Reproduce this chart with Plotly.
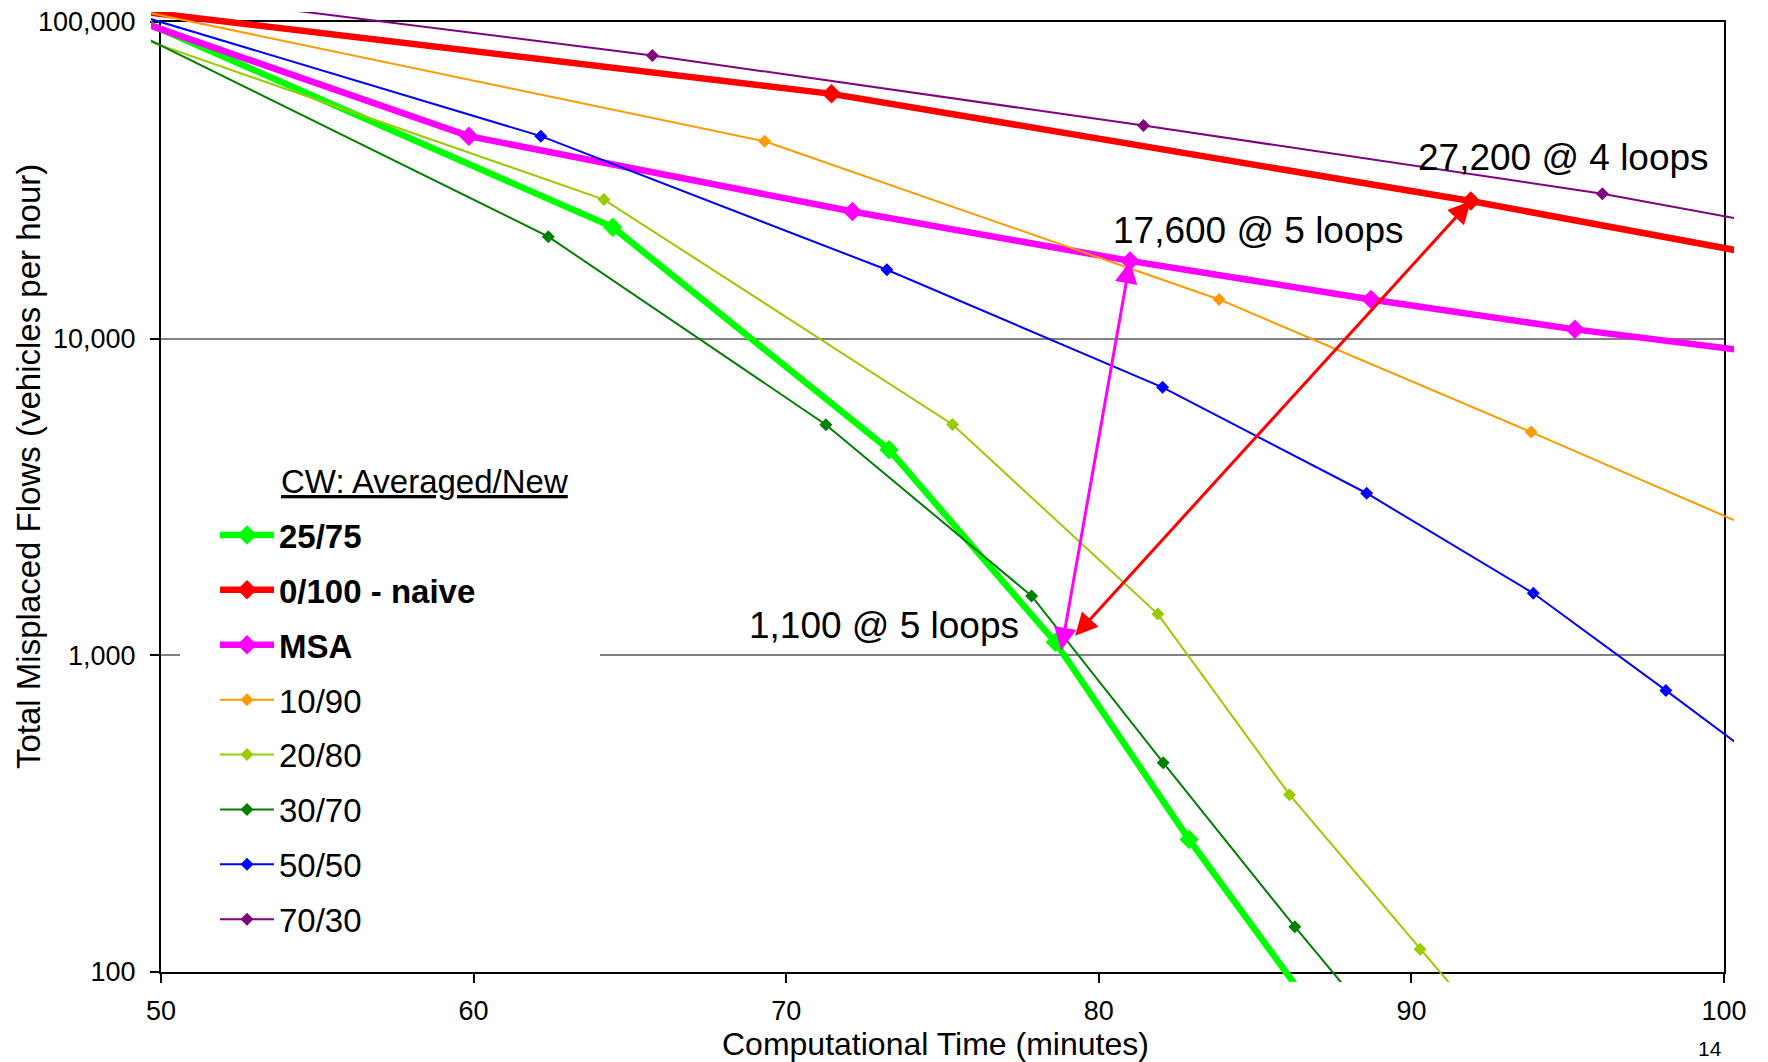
import math
import plotly.graph_objects as go

# ---------------- data ----------------
x_2575 = [49.0, 64.45, 73.29, 78.61, 82.89, 86.7]
y_2575 = [104800, 22500, 4460, 1100, 262, 80]

x_naive = [49.0, 71.45, 91.9, 112.3]
y_naive = [109000, 59300, 27200, 11500]

x_msa = [49.0, 59.85, 72.12, 81.0, 88.71, 95.23, 101.5]
y_msa = [102700, 43600, 25200, 17600, 13300, 10700, 8950]

x_1090 = [49.0, 69.31, 83.85, 93.83, 101.0]
y_1090 = [110100, 42000, 13300, 5070, 2500]

x_2080 = [49.0, 64.17, 75.32, 81.89, 86.10, 90.28, 93.5]
y_2080 = [91200, 27500, 5360, 1350, 363, 118, 50]

x_3070 = [49.0, 62.39, 71.27, 77.85, 82.06, 86.27, 89.8]
y_3070 = [94300, 21000, 5350, 1540, 458, 139, 53]

x_5050 = [49.0, 62.15, 73.22, 82.04, 88.57, 93.90, 98.14, 101.6]
y_5050 = [107000, 43600, 16500, 7020, 3250, 1570, 775, 431]

x_7030 = [49.0, 65.72, 81.43, 96.11, 110.5]
y_7030 = [126300, 78400, 47100, 28700, 15650]

series_names = ["25/75", "0/100 - naive", "MSA", "10/90", "20/80", "30/70", "50/50", "70/30"]
legend_title = "CW: Averaged/New"
x_ticks = [50, 60, 70, 80, 90, 100]
y_ticks = [100, 1000, 10000, 100000]
y_tick_text = ["100", "1,000", "10,000", "100,000"]
x_title = "Computational Time (minutes)"
y_title = "Total Misplaced Flows (vehicles per hour)"
page_no = "14"

# callouts: (label, x, value)
callout_naive = ("27,200 @ 4 loops", 91.9, 27200)
callout_msa = ("17,600 @ 5 loops", 81.0, 17600)
callout_2575 = ("1,100 @ 5 loops", 78.61, 1100)

# ---------------- styling ----------------
W, H = 1768, 1062
ML, MR, MT, MB = 151, 34, 12, 80
PW, PH = W - ML - MR, H - MT - MB
OV = 10  # px that the lines may overflow the frame
XMIN, XMAX = 50, 100
LMIN, LMAX = 2, 5
ppm = (PW - 2 * OV) / (XMAX - XMIN)
ppd = (PH - 2 * OV) / (LMAX - LMIN)
FONT = "Liberation Sans, Arial, sans-serif"


def px(xpix):
    return (xpix - ML) / PW


def py(ypix):
    return 1 - (ypix - MT) / PH


styles = [
    ("#00FF00", 6.5, 15, True),
    ("#FF0000", 6.5, 15, True),
    ("#FF00FF", 6.5, 15, True),
    ("#FF9900", 2, 10, False),
    ("#99CC00", 2, 10, False),
    ("#008000", 2, 10, False),
    ("#0000FF", 2, 10, False),
    ("#800080", 2, 10, False),
]
data = [(x_2575, y_2575), (x_naive, y_naive), (x_msa, y_msa), (x_1090, y_1090),
        (x_2080, y_2080), (x_3070, y_3070), (x_5050, y_5050), (x_7030, y_7030)]

fig = go.Figure()
# frame subplot (axes, ticks, grid)
fig.add_trace(go.Scatter(x=[None], y=[None], xaxis="x", yaxis="y",
                         showlegend=False, hoverinfo="skip"))
for name, (xs, ys), (col, lw, ms, bold) in zip(series_names, data, styles):
    fig.add_trace(go.Scatter(
        x=xs, y=ys, xaxis="x2", yaxis="y2", mode="lines+markers",
        name=f"<b>{name}</b>" if bold else name, legendgroup=name,
        line=dict(color=col, width=lw),
        marker=dict(symbol="diamond", size=ms, color=col, line=dict(width=0)),
    ))

L = math.log10
annotations = []
# arrows (double-headed)
annotations.append(dict(xref="x2", yref="y2", axref="x2", ayref="y2",
                        x=callout_msa[1], y=L(callout_msa[2]),
                        ax=78.79, ay=L(1027), text="", showarrow=True,
                        arrowside="end+start", arrowhead=2, startarrowhead=2,
                        arrowsize=1.5, startarrowsize=1.5, arrowwidth=3,
                        arrowcolor="#FF00FF", standoff=0, startstandoff=0))
annotations.append(dict(xref="x2", yref="y2", axref="x2", ayref="y2",
                        x=callout_naive[1], y=L(callout_naive[2]),
                        ax=79.2, ay=L(1140), text="", showarrow=True,
                        arrowside="end+start", arrowhead=2, startarrowhead=2,
                        arrowsize=1.5, startarrowsize=1.5, arrowwidth=3,
                        arrowcolor="#FF0000", standoff=0, startstandoff=0))
# callout texts
for (txt, _, _), tx, ty in [(callout_naive, 94.85, 4.5733),
                            (callout_msa, 85.12, 4.3417),
                            (callout_2575, 73.13, 3.0933)]:
    annotations.append(dict(xref="x2", yref="y2", x=tx, y=ty, text=txt,
                            showarrow=False, xanchor="center", yanchor="middle",
                            font=dict(size=37, color="black", family=FONT)))
# axis titles
annotations.append(dict(xref="paper", yref="paper", x=px(28), y=py(467),
                        textangle=-90, text=y_title, showarrow=False,
                        xanchor="center", yanchor="middle",
                        font=dict(size=33, color="black", family=FONT)))
annotations.append(dict(xref="paper", yref="paper", x=px(935), y=py(1044),
                        text=x_title, showarrow=False,
                        xanchor="center", yanchor="middle",
                        font=dict(size=32, color="black", family=FONT)))
# legend title (underlined)
annotations.append(dict(xref="paper", yref="paper", x=px(279), y=py(481),
                        text=f"<u>{legend_title}</u>", showarrow=False,
                        xanchor="left", yanchor="middle",
                        font=dict(size=33, color="black", family=FONT)))
# page number
annotations.append(dict(xref="paper", yref="paper", x=px(1710), y=py(1048),
                        text=page_no, showarrow=False,
                        xanchor="center", yanchor="middle",
                        font=dict(size=21, color="black", family=FONT)))

# white legend panel that masks the gridline behind the legend
shapes = [dict(type="rect", xref="paper", yref="paper", layer="above",
               x0=px(180), x1=px(600), y0=py(945), y1=py(455),
               fillcolor="white", line=dict(width=0))]

fig.update_layout(
    width=W, height=H,
    margin=dict(l=ML, r=MR, t=MT, b=MB, pad=0, autoexpand=False),
    paper_bgcolor="white", plot_bgcolor="rgba(0,0,0,0)",
    font=dict(family=FONT, color="black"),
    showlegend=True,
    xaxis=dict(domain=[OV / PW, 1 - OV / PW], anchor="y", range=[XMIN, XMAX],
               automargin=False,
               tickvals=x_ticks, ticks="outside", ticklen=9, tickwidth=1.5,
               tickcolor="black", showgrid=False, zeroline=False,
               showline=True, linecolor="black", linewidth=2, mirror=True,
               tickfont=dict(size=27), ticklabelstandoff=5),
    yaxis=dict(domain=[OV / PH, 1 - OV / PH], anchor="x", type="log",
               automargin=False,
               range=[LMIN, LMAX], tickvals=y_ticks, ticktext=y_tick_text,
               ticks="outside", ticklen=9, tickwidth=1.5, tickcolor="black",
               showgrid=True, gridcolor="#808080", gridwidth=1.5,
               zeroline=False, showline=True, linecolor="black", linewidth=2,
               mirror=True, tickfont=dict(size=27), ticklabelstandoff=9),
    xaxis2=dict(domain=[0, 1], anchor="y2", automargin=False,
                range=[XMIN - OV / ppm, XMAX + OV / ppm], visible=False),
    yaxis2=dict(domain=[0, 1], anchor="x2", type="log", automargin=False,
                range=[LMIN - OV / ppd, LMAX + OV / ppd], visible=False),
    legend=dict(x=px(215), y=py(507), xanchor="left",
                yanchor="top", bgcolor="white", borderwidth=0,
                font=dict(size=33, color="black"),
                itemwidth=54, tracegroupgap=9, itemsizing="trace"),
    annotations=annotations,
    shapes=shapes,
)

fig.write_html("out.html", config={"displayModeBar": False},
               post_script="document.body.style.margin='0px';")
